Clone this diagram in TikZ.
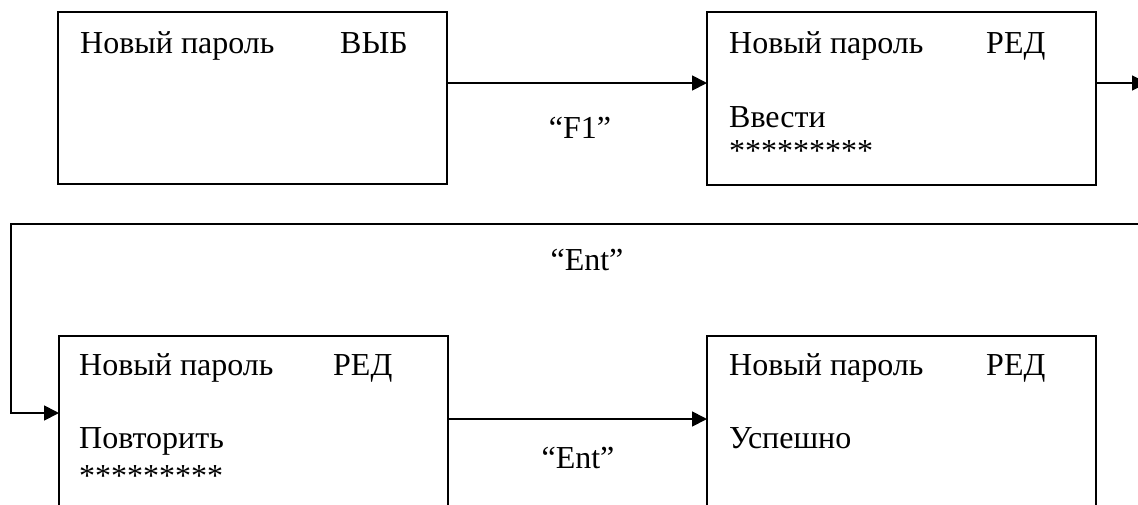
\documentclass[tikz,border=0pt]{standalone}
\usepackage{fontspec}
\setmainfont{Liberation Serif}
\usetikzlibrary{arrows.meta}
\tikzset{
  screen/.style={draw, line width=1.8pt, rectangle, inner sep=0pt, outer sep=0pt,
    minimum width=389pt, anchor=north west},
  txt/.style={anchor=base west, inner sep=0pt, font=\fontsize{32}{38}\selectfont},
  lbl/.style={anchor=base, inner sep=0pt, font=\fontsize{32}{38}\selectfont},
  arr/.style={line width=1.8pt, -{Triangle[length=15pt,width=15pt]}},
  ln/.style={line width=1.8pt}
}
\begin{document}
\begin{tikzpicture}[x=1pt,y=-1pt]
\useasboundingbox (0,0) rectangle (1138,504);
\clip (0,0) rectangle (1138,504);
% boxes
\node[screen, minimum height=172pt] (b1) at (58,12) {};
\node[screen, minimum height=173pt] (b2) at (707,12) {};
\node[screen, minimum height=180pt] (b3) at (59,336) {};
\node[screen, minimum height=180pt] (b4) at (707,336) {};
% texts box 1
\node[txt] (t1a) at (80,53) {Новый пароль};
\node[txt] (t1b) at (340,53) {ВЫБ};
% texts box 2
\node[txt] (t2a) at (729,53) {Новый пароль};
\node[txt] (t2b) at (986,53) {РЕД};
\node[txt] (t2c) at (729,127) {Ввести};
\node[txt] (t2d) at (729,161) {*********};
% texts box 3
\node[txt] (t3a) at (79,375) {Новый пароль};
\node[txt] (t3b) at (333,375) {РЕД};
\node[txt] (t3c) at (79,448) {Повторить};
\node[txt] (t3d) at (79,486) {*********};
% texts box 4
\node[txt] (t4a) at (729,375) {Новый пароль};
\node[txt] (t4b) at (986,375) {РЕД};
\node[txt] (t4c) at (729,448) {Успешно};
% labels
\node[lbl] (lf1) at (580,138) {“F1”};
\node[lbl] (lent1) at (587,270) {“Ent”};
\node[lbl] (lent2) at (578,468) {“Ent”};
% connectors
\coordinate (exitR) at (1147,83);
\coordinate (retR) at (1145,224);
\coordinate (cL) at (11,224);
\draw[arr] (b1.east |- 0,83) -- (b2.west |- 0,83);
\draw[arr] (b2.east |- 0,83) -- (exitR);
\draw[arr] (retR) -- (cL) -- (cL |- 0,413) -- (b3.west |- 0,413);
\draw[arr] (b3.east |- 0,419) -- (b4.west |- 0,419);
\end{tikzpicture}
\end{document}
